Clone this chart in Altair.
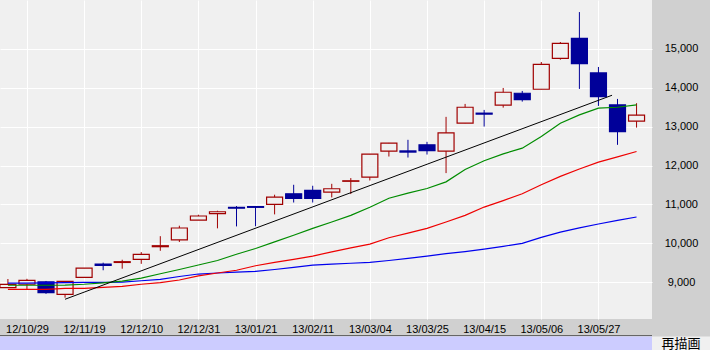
import altair as alt
import pandas as pd
import numpy as np

# ---- data (weekly candles) ----
dates = ["2012-10-22", "2012-10-29", "2012-11-05", "2012-11-12", "2012-11-19", "2012-11-26",
         "2012-12-03", "2012-12-10", "2012-12-17", "2012-12-24", "2012-12-31", "2013-01-07",
         "2013-01-14", "2013-01-21", "2013-01-28", "2013-02-04", "2013-02-11", "2013-02-18",
         "2013-02-25", "2013-03-04", "2013-03-11", "2013-03-18", "2013-03-25", "2013-04-01",
         "2013-04-08", "2013-04-15", "2013-04-22", "2013-04-29", "2013-05-06", "2013-05-13",
         "2013-05-20", "2013-05-27", "2013-06-03", "2013-06-10"]
opens = [8865, 8950, 9010, 8692, 9128, 9470, 9510, 9590, 9915, 10088, 10600, 10762,
         10925, 10945, 11000, 11275, 11360, 11318, 11595, 11703, 12369, 12375, 12531, 12369,
         13087, 13345, 13549, 13856, 13959, 14754, 15267, 14377, 13556, 13138]
highs = [9085, 9090, 9035, 9030, 9366, 9505, 9580, 9776, 10185, 10454, 10736, 10839,
         10959, 10960, 11250, 11505, 11480, 11530, 11677, 12292, 12580, 12660, 12608, 13250,
         13582, 13428, 13992, 13915, 14659, 15172, 15941, 14531, 13710, 13600]
lows = [8865, 8820, 8705, 8605, 9128, 9310, 9350, 9475, 9810, 10036, 10600, 10386,
        10436, 10440, 10745, 11050, 11050, 11180, 11267, 11615, 12231, 12205, 12282, 11805,
        13087, 13000, 13487, 13641, 13959, 14718, 13967, 13531, 12531, 12974]
closes = [8945, 9050, 8735, 9025, 9366, 9435, 9530, 9718, 9940, 10395, 10703, 10813,
          10905, 10926, 11190, 11155, 11155, 11403, 11608, 12292, 12574, 12345, 12385, 12838,
          13497, 13320, 13882, 13694, 14600, 15138, 14615, 13769, 12872, 13292]
ma13 = [8925, 8925, 8925, 8930, 8950, 8985, 9030, 9110, 9220, 9330, 9444, 9560,
        9720, 9870, 10040, 10210, 10385, 10550, 10720, 10930, 11160, 11290, 11410, 11580,
        11900, 12121, 12300, 12446, 12744, 13087, 13300, 13472, 13497, 13556]
ma26 = [8820, 8820, 8820, 8846, 8846, 8872, 8897, 8950, 8990, 9060, 9165, 9240,
        9310, 9425, 9510, 9590, 9675, 9780, 9885, 9982, 10144, 10265, 10385, 10550,
        10720, 10933, 11100, 11275, 11505, 11720, 11910, 12087, 12220, 12359]
ma52 = [8980, 8980, 8985, 8990, 9000, 9000, 9005, 9040, 9075, 9150, 9213, 9240,
        9262, 9282, 9330, 9385, 9444, 9465, 9490, 9513, 9560, 9615, 9675, 9735,
        9790, 9852, 9925, 10000, 10154, 10290, 10400, 10497, 10590, 10677]
trend_dates = ["2012-11-12", "2013-06-01"]
trend_values = [8565, 13805]
x_tick_dates = ["2012-10-29", "2012-11-19", "2012-12-10", "2012-12-31", "2013-01-21",
                "2013-02-11", "2013-03-04", "2013-03-25", "2013-04-15", "2013-05-06",
                "2013-05-27"]
y_ticks = [9000, 10000, 11000, 12000, 13000, 14000, 15000]
button_label = "再描画"


def ms(d):
    return int(pd.Timestamp(d, tz="UTC").value // 10**6)


DAY = 86400000
x_domain = [ms("2012-10-29") - 8.07 * DAY, ms("2013-05-27") + 17.84 * DAY]
y_domain = [8058, 16251]

df = pd.DataFrame({
    "t": [ms(d) for d in dates],
    "open": opens, "high": highs, "low": lows, "close": closes,
    "ma13": ma13, "ma26": ma26, "ma52": ma52,
})
df["dir"] = np.where(df["close"] >= df["open"], "up", "down")

trend = pd.DataFrame({"t": [ms(d) for d in trend_dates], "v": trend_values})
deco = pd.DataFrame({"a": [0]})

FONT = "Liberation Sans"

x_axis = alt.Axis(values=[ms(d) for d in x_tick_dates], format="%y/%m/%d", title=None,
                  grid=True, gridColor="#ffffff", gridWidth=1, gridOpacity=1,
                  ticks=False, tickSize=0, domain=False, labelPadding=10,
                  labelBaseline="middle", labelAlign="center", labelFontSize=11,
                  labelFont=FONT, labelColor="#000000", labelOverlap=False,
                  labelFlush=False)
y_axis = alt.Axis(orient="right", values=y_ticks, title=None,
                  labelExpr="format(datum.value, ',d')",
                  grid=True, gridColor="#ffffff", gridWidth=1, gridOpacity=1,
                  ticks=False, tickSize=0, domain=False, labelPadding=29,
                  labelAlign="center", labelBaseline="middle", labelFontSize=11,
                  labelFont=FONT, labelColor="#000000", labelOverlap=False,
                  labelFlush=False)
x_scale = alt.Scale(type="utc", domain=x_domain, nice=False)
y_scale = alt.Scale(domain=y_domain, nice=False, zero=False)


def X(field="t:T"):
    return alt.X(field, scale=x_scale, axis=x_axis)


def Y(field):
    return alt.Y(field, scale=y_scale, axis=y_axis)


stroke_scale = alt.Scale(domain=["up", "down"], range=["#a00000", "#000099"])
fill_scale = alt.Scale(domain=["up", "down"], range=["#f0f0f0", "#000099"])

wicks = alt.Chart(df).mark_rule(strokeWidth=1, clip=True).encode(
    x=X(), y=Y("low:Q"), y2="high:Q",
    stroke=alt.Stroke("dir:N", scale=stroke_scale, legend=None),
)
bodies = alt.Chart(df).mark_bar(size=16, strokeWidth=1.2, clip=True).encode(
    x=X(), y=Y("open:Q"), y2="close:Q",
    fill=alt.Fill("dir:N", scale=fill_scale, legend=None),
    stroke=alt.Stroke("dir:N", scale=stroke_scale, legend=None),
)
line52 = alt.Chart(df).mark_line(color="#0000ee", strokeWidth=1.2, clip=True).encode(
    x=X(), y=Y("ma52:Q"))
line26 = alt.Chart(df).mark_line(color="#ee0000", strokeWidth=1.2, clip=True).encode(
    x=X(), y=Y("ma26:Q"))
line13 = alt.Chart(df).mark_line(color="#008c00", strokeWidth=1.2, clip=True).encode(
    x=X(), y=Y("ma13:Q"))
trend_line = alt.Chart(trend).mark_line(color="#000000", strokeWidth=1, clip=True).encode(
    x=X(), y=Y("v:Q"))

lav = alt.Chart(deco).mark_rect(color="#ccccff", clip=False).encode(
    x=alt.value(0), x2=alt.value(652), y=alt.value(336.5), y2=alt.value(350))
sep = alt.Chart(deco).mark_rule(color="#666666", strokeWidth=1, clip=False).encode(
    x=alt.value(0), x2=alt.value(652), y=alt.value(335.5))
button = alt.Chart(deco).mark_rect(color="#f0f0f0", clip=False).encode(
    x=alt.value(652), x2=alt.value(710), y=alt.value(336.5), y2=alt.value(350))
button_text = alt.Chart(deco).mark_text(
    text=button_label, font="Noto Sans CJK JP", fontSize=13, align="center",
    baseline="top", color="#000000", clip=False).encode(
    x=alt.value(681), y=alt.value(337.5))

chart = alt.layer(
    wicks, bodies, line52, line26, line13, trend_line, lav, sep, button, button_text
).properties(
    width=652, height=319, autosize="none",
    padding={"left": 0, "top": 0, "right": 58, "bottom": 31},
    background="#d0d0d0",
).configure_view(fill="#f0f0f0", strokeWidth=0)

chart.save("out.html", embed_options={"renderer": "svg", "actions": False})
